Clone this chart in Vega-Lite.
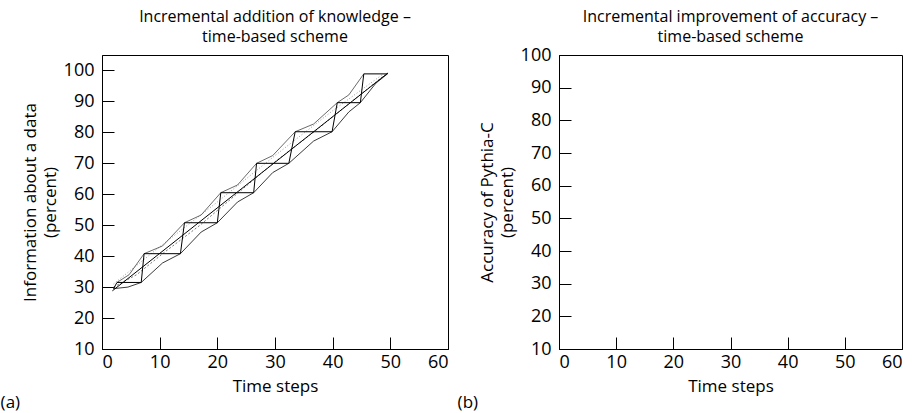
{
  "$schema": "https://vega.github.io/schema/vega-lite/v6.json",
  "background": "white",
  "padding": {"left": 0, "top": 8, "right": 5, "bottom": 0},
  "config": {
    "font": "Open Sans",
    "view": {"stroke": "black", "strokeWidth": 1},
    "axis": {"domainColor": "black", "tickColor": "black", "labelColor": "black", "titleColor": "black", "grid": false, "tickSize": -12, "labelFontSize": 18, "titleFontSize": 17, "titleFontWeight": "normal", "titleLineHeight": 20, "labelFont": "Open Sans", "titleFont": "Open Sans"},
    "title": {"fontSize": 16, "fontWeight": "normal", "color": "black", "font": "Open Sans"},
    "concat": {"spacing": 8}
  },
  "datasets": {
    "lines": [
      {"series": "trend", "i": 0, "x": 1.8, "y": 28.8},
      {"series": "trend", "i": 1, "x": 49.6, "y": 99.2},
      {"series": "A", "i": 0, "x": 2.0, "y": 29.5},
      {"series": "A", "i": 1, "x": 2.6, "y": 31.5},
      {"series": "A", "i": 2, "x": 6.8, "y": 31.5},
      {"series": "A", "i": 3, "x": 7.3, "y": 40.8},
      {"series": "A", "i": 4, "x": 13.6, "y": 40.8},
      {"series": "A", "i": 5, "x": 14.3, "y": 50.8},
      {"series": "A", "i": 6, "x": 20.0, "y": 50.8},
      {"series": "A", "i": 7, "x": 20.6, "y": 60.5},
      {"series": "A", "i": 8, "x": 26.3, "y": 60.5},
      {"series": "A", "i": 9, "x": 26.8, "y": 70.0},
      {"series": "A", "i": 10, "x": 32.4, "y": 70.0},
      {"series": "A", "i": 11, "x": 33.5, "y": 80.2},
      {"series": "A", "i": 12, "x": 39.9, "y": 80.2},
      {"series": "A", "i": 13, "x": 40.8, "y": 89.6},
      {"series": "A", "i": 14, "x": 44.8, "y": 89.6},
      {"series": "A", "i": 15, "x": 45.4, "y": 98.9},
      {"series": "A", "i": 16, "x": 49.5, "y": 98.9},
      {"series": "B", "i": 0, "x": 2.0, "y": 29.5},
      {"series": "B", "i": 1, "x": 4.5, "y": 30.0},
      {"series": "B", "i": 2, "x": 6.8, "y": 31.5},
      {"series": "B", "i": 3, "x": 10.5, "y": 37.8},
      {"series": "B", "i": 4, "x": 13.6, "y": 40.8},
      {"series": "B", "i": 5, "x": 17.2, "y": 47.8},
      {"series": "B", "i": 6, "x": 20.0, "y": 50.8},
      {"series": "B", "i": 7, "x": 23.5, "y": 57.5},
      {"series": "B", "i": 8, "x": 26.3, "y": 60.5},
      {"series": "B", "i": 9, "x": 29.6, "y": 67.0},
      {"series": "B", "i": 10, "x": 32.4, "y": 70.0},
      {"series": "B", "i": 11, "x": 36.7, "y": 77.2},
      {"series": "B", "i": 12, "x": 39.9, "y": 80.2},
      {"series": "B", "i": 13, "x": 42.8, "y": 86.6},
      {"series": "B", "i": 14, "x": 44.8, "y": 89.6},
      {"series": "B", "i": 15, "x": 47.5, "y": 95.9},
      {"series": "B", "i": 16, "x": 49.5, "y": 98.9},
      {"series": "C", "i": 0, "x": 2.6, "y": 31.5},
      {"series": "C", "i": 1, "x": 4.7, "y": 34.0},
      {"series": "C", "i": 2, "x": 7.3, "y": 40.8},
      {"series": "C", "i": 3, "x": 10.5, "y": 43.3},
      {"series": "C", "i": 4, "x": 14.3, "y": 50.8},
      {"series": "C", "i": 5, "x": 17.2, "y": 53.3},
      {"series": "C", "i": 6, "x": 20.6, "y": 60.5},
      {"series": "C", "i": 7, "x": 23.5, "y": 63.0},
      {"series": "C", "i": 8, "x": 26.8, "y": 70.0},
      {"series": "C", "i": 9, "x": 29.6, "y": 72.5},
      {"series": "C", "i": 10, "x": 33.5, "y": 80.2},
      {"series": "C", "i": 11, "x": 36.7, "y": 82.7},
      {"series": "C", "i": 12, "x": 40.8, "y": 89.6},
      {"series": "C", "i": 13, "x": 42.8, "y": 92.1},
      {"series": "C", "i": 14, "x": 45.4, "y": 98.9},
      {"series": "D1", "i": 0, "x": 2.0, "y": 31.0},
      {"series": "D1", "i": 1, "x": 10.0, "y": 43.0},
      {"series": "D1", "i": 2, "x": 20.0, "y": 57.5},
      {"series": "D1", "i": 3, "x": 30.0, "y": 72.5},
      {"series": "D1", "i": 4, "x": 40.0, "y": 87.0},
      {"series": "D1", "i": 5, "x": 48.5, "y": 98.5},
      {"series": "D2", "i": 0, "x": 2.0, "y": 30.0},
      {"series": "D2", "i": 1, "x": 6.0, "y": 34.0},
      {"series": "D2", "i": 2, "x": 11.0, "y": 41.5},
      {"series": "D2", "i": 3, "x": 17.0, "y": 50.0},
      {"series": "D2", "i": 4, "x": 23.0, "y": 59.5},
      {"series": "D2", "i": 5, "x": 30.0, "y": 70.5},
      {"series": "D2", "i": 6, "x": 37.0, "y": 80.5},
      {"series": "D2", "i": 7, "x": 43.0, "y": 89.5},
      {"series": "D2", "i": 8, "x": 49.0, "y": 98.5}
    ]
  },
  "hconcat": [
    {
      "title": {"text": "(a)", "orient": "bottom", "anchor": "start", "frame": "bounds", "fontSize": 17, "offset": 0},
      "vconcat": [
        {
          "title": {"text": ["Incremental addition of knowledge –", "time-based scheme"], "anchor": "middle", "offset": 10, "lineHeight": 20},
          "width": 346,
          "height": 294,
          "data": {"name": "lines"},
          "encoding": {
            "x": {"field": "x", "type": "quantitative", "scale": {"domain": [0, 60], "nice": false, "zero": false}, "axis": {"values": [0, 10, 20, 30, 40, 50, 60], "title": "Time steps", "labelPadding": 16, "titlePadding": 7}},
            "y": {"field": "y", "type": "quantitative", "scale": {"domain": [10, 105], "nice": false, "zero": false}, "axis": {"values": [10, 20, 30, 40, 50, 60, 70, 80, 90, 100], "title": ["", "Information about a data", "(percent)"], "labelPadding": 20, "titlePadding": 4}},
            "order": {"field": "i", "type": "quantitative"}
          },
          "layer": [
            {"transform": [{"filter": "datum.series === 'D1'"}], "mark": {"type": "line", "color": "#999999", "strokeWidth": 1, "strokeDash": [1, 2]}},
            {"transform": [{"filter": "datum.series === 'D2'"}], "mark": {"type": "line", "color": "#777777", "strokeWidth": 1, "strokeDash": [2, 2]}},
            {"transform": [{"filter": "datum.series === 'C'"}], "mark": {"type": "line", "color": "#444444", "strokeWidth": 0.8}},
            {"transform": [{"filter": "datum.series === 'B'"}], "mark": {"type": "line", "color": "#222222", "strokeWidth": 0.9}},
            {"transform": [{"filter": "datum.series === 'trend'"}], "mark": {"type": "line", "color": "#000000", "strokeWidth": 1}},
            {"transform": [{"filter": "datum.series === 'A'"}], "mark": {"type": "line", "color": "#000000", "strokeWidth": 1}}
          ]
        }
      ]
    },
    {
      "title": {"text": "(b)", "orient": "bottom", "anchor": "start", "frame": "bounds", "fontSize": 17, "offset": 0},
      "vconcat": [
        {
          "title": {"text": ["Incremental improvement of accuracy –", "time-based scheme"], "anchor": "middle", "offset": 1, "lineHeight": 20},
          "width": 343,
          "height": 294,
          "data": {"name": "lines"},
          "transform": [{"filter": "datum.series === 'none'"}],
          "mark": {"type": "line", "color": "black"},
          "encoding": {
            "x": {"field": "x", "type": "quantitative", "scale": {"domain": [0, 60], "nice": false, "zero": false}, "axis": {"values": [0, 10, 20, 30, 40, 50, 60], "title": "Time steps", "labelPadding": 16, "titlePadding": 7}},
            "y": {"field": "y", "type": "quantitative", "scale": {"domain": [10, 100], "nice": false, "zero": false}, "axis": {"values": [10, 20, 30, 40, 50, 60, 70, 80, 90, 100], "title": ["", "Accuracy of Pythia-C", "(percent)"], "labelPadding": 20, "titlePadding": 4}}
          }
        }
      ]
    }
  ]
}
